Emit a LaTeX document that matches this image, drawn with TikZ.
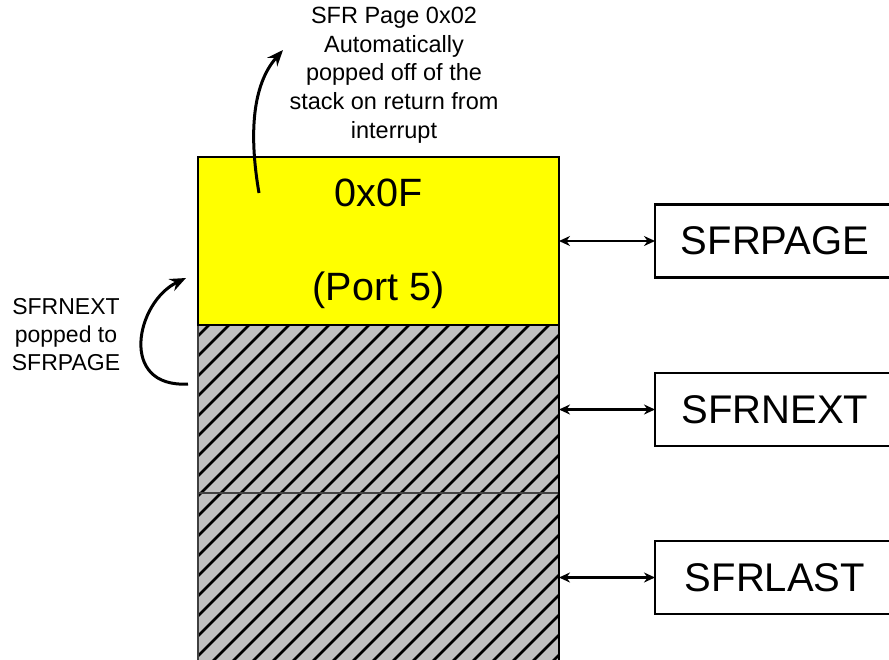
\documentclass[tikz,border=0pt]{standalone}
\usepackage{fontspec}
\setmainfont{Liberation Sans}
\usetikzlibrary{arrows.meta}
\definecolor{padyellow}{RGB}{255,255,0}
\definecolor{padgray}{RGB}{192,192,192}
\begin{document}
\begin{tikzpicture}[x=1pt,y=-1pt,
  stackbox/.style={draw=black!75, line width=1pt, minimum width=361pt, minimum height=168pt, inner sep=0pt, outer sep=0pt},
  regbox/.style={draw=black, line width=2.2pt, minimum width=240pt, minimum height=73pt, inner sep=0pt, outer sep=0pt, font=\fontsize{40}{46}\selectfont},
  bigtxt/.style={font=\fontsize{39.5}{44}\selectfont, inner sep=0pt},
  note/.style={font=\fontsize{23.5}{28.7}\selectfont, align=center, inner sep=0pt},
  leftnote/.style={font=\fontsize{23}{28}\selectfont, align=center, inner sep=0pt},
  link/.style={line width=2.6pt, {Stealth[length=11pt,width=10pt]}-{Stealth[length=11pt,width=10pt]}},
  curl/.style={line width=3pt, -{Stealth[length=16pt,width=13pt]}},
  hatch/.style={line width=2.8pt, black}
]
\useasboundingbox (0,0) rectangle (889,659);
\clip (0,0) rectangle (889,659);
% stack
\node[stackbox, fill=padyellow, draw=black] (page0) at (378.5,241) {};
\node[stackbox, fill=padgray] (page1) at (378.5,409) {};
\node[stackbox, fill=padgray] (page2) at (378.5,577) {};
\begin{scope}
  \clip (page1.north west) rectangle (page2.south east);
  \foreach \k in {26,...,62} {
    \pgfmathsetmacro{\c}{20*\k+14}
    \draw[hatch] ({\c-700},700) -- ({\c-300},300);
  }
\end{scope}
\draw[black!75, line width=1.2pt] (page1.north west) rectangle (page1.south east);
\draw[black!75, line width=1.2pt] (page2.north west) rectangle (page2.south east);
\draw[black, line width=1.4pt] (page0.north west) rectangle (page0.south east);
\draw[black, line width=2pt] (page1.north east) -- (page2.south east);
% labels in yellow box
\node[bigtxt] (val) at (378.5,193) {0x0F};
\node[bigtxt] (port) at (378.5,290) {(Port 5)};
% registers
\node[regbox] (sfrpage) at (775,241) {SFRPAGE};
\node[regbox] (sfrnext) at (775,409.5) {SFRNEXT};
\node[regbox] (sfrlast) at (775,577.5) {SFRLAST};
\draw[link] (page0.east) -- (sfrpage.west);
\draw[link] (sfrnext.west -| page1.east) -- (sfrnext.west);
\draw[link] (sfrlast.west -| page2.east) -- (sfrlast.west);
% notes
\node[note] (popnote) at (394,75) {SFR Page 0x02\\Automatically\\popped off of the\\stack on return from\\interrupt};
\node[leftnote] (nextnote) at (66,335) {SFRNEXT\\popped to\\SFRPAGE};
% curved arrows
\coordinate (popstart) at (259,193);
\coordinate (popend) at (283,50);
\draw[curl] (popstart) .. controls (249,135) and (252,85) .. (popend);
\coordinate (nextstart) at (188,384);
\coordinate (nextend) at (186,278);
\draw[curl] (nextstart) .. controls (118,388) and (136,302) .. (nextend);
\end{tikzpicture}
\end{document}
